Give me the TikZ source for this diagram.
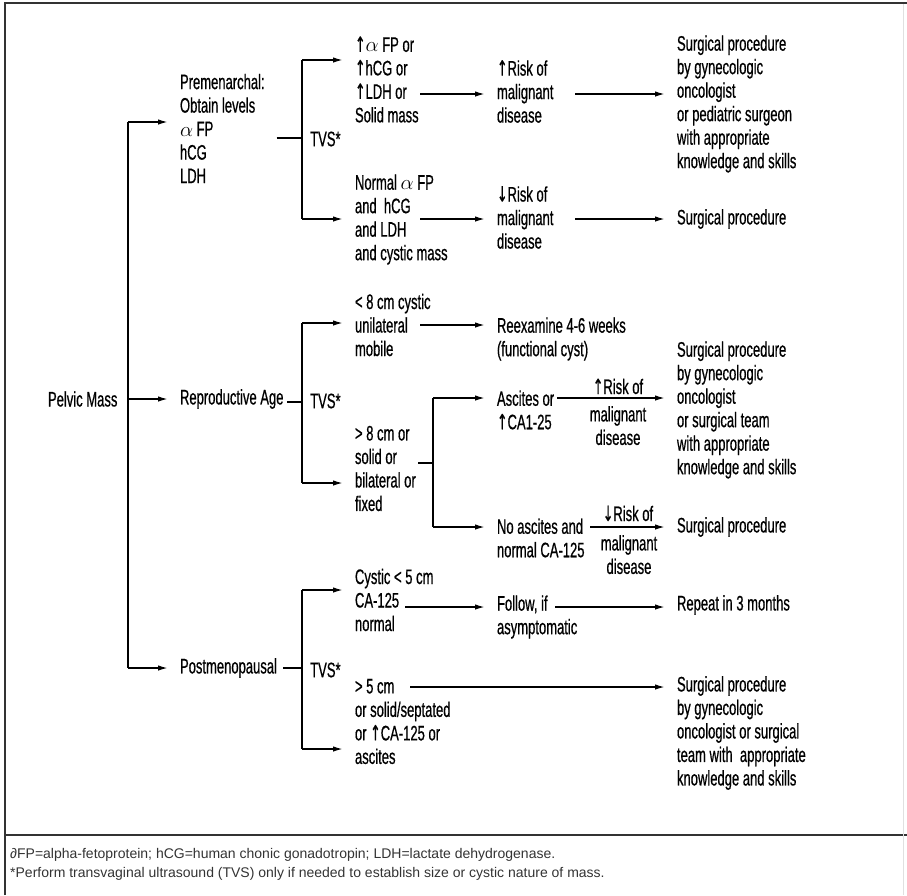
\documentclass[tikz,border=0pt]{standalone}
\usepackage{fontspec}
\setmainfont[FakeStretch=0.62,FakeBold=0.6]{Liberation Sans}
\newfontfamily\footfont{Liberation Sans}
\newfontfamily\arrfont[FakeStretch=0.6,FakeBold=0.6]{DejaVu Sans}
\newcommand{\up}{{\arrfont ↑}}
\newcommand{\dn}{{\arrfont ↓}}
\usetikzlibrary{arrows.meta}
\newcommand{\dfont}{\fontsize{21}{23.5}\selectfont}
\newcommand{\ffont}{\footfont\fontsize{14}{19}\selectfont}
\begin{document}
\begin{tikzpicture}[x=1pt,y=-1pt,
  ln/.style={line width=1.6pt},
  arr/.style={line width=1.6pt,-{Latex[length=10pt,width=5.5pt]}},
  txt/.style={inner sep=0pt,outer xsep=12pt,align=left,anchor=west,font=\dfont},
  lbl/.style={inner sep=0pt,align=center,font=\dfont},
  frameline/.style={line width=2pt,draw=black!80}]
\useasboundingbox (0,0) rectangle (907,895);
% frame
\draw[frameline] (5,895) -- (5,3) -- (907,3);
\draw[frameline] (5,835) -- (907,835);
\draw[draw=black!12,line width=1pt] (903,4) -- (903,895);

% level 1
\node[txt] (pelvic) at (36,399) {Pelvic Mass};
\node[txt] (prem) at (168,128.5) {Premenarchal:\\Obtain levels\\$\alpha$ FP\\hCG\\LDH};
\node[txt] (repro) at (168,399) {Reproductive Age};
\node[txt] (post) at (168,668) {Postmenopausal};
\coordinate (t1) at (128,122);
\coordinate (t3) at (128,668);
\draw[ln] (t1) -- (t3);
\draw[arr] (t1) -- (t1 -| prem.west);
\draw[arr] (pelvic.east -| t1) -- (repro.west);
\draw[arr] (t3) -- (post.west);

% premenarchal branch
\node[txt] (hi1) at (343,79.5) {\up$\alpha$ FP or\\\up hCG or\\\up LDH or\\Solid mass};
\node[txt] (lo1) at (343,219.5) {Normal $\alpha$ FP\\and\ \ hCG\\and LDH\\and cystic mass};
\node[txt] (risk1) at (485,91.5) {\up Risk of\\malignant\\disease};
\node[txt] (risk2) at (485,217.5) {\dn Risk of\\malignant\\disease};
\node[txt] (surg1) at (665,104) {Surgical procedure\\by gynecologic\\oncologist\\or pediatric surgeon\\with appropriate\\knowledge and skills};
\node[txt] (surg2) at (665,219) {Surgical procedure};
\coordinate (j1) at (302,138);
\coordinate (v1a) at (302,60);
\coordinate (v1b) at (302,219);
\draw[ln] (j1 -| prem.east) -- (j1);
\draw[ln] (v1a) -- (v1b);
\node[lbl,anchor=west] (tvs1) at (310,139) {TVS*};
\draw[arr] (v1a) -- (v1a -| hi1.west);
\draw[arr] (v1b) -- (v1b -| lo1.west);
\coordinate (h1) at (420,94);
\coordinate (h2) at (575,94);
\coordinate (l1) at (420,219);
\coordinate (l2) at (575,219);
\draw[arr] (h1) -- (h1 -| risk1.west);
\draw[arr] (h2) -- (h2 -| surg1.west);
\draw[arr] (l1) -- (l1 -| risk2.west);
\draw[arr] (l2) -- (l2 -| surg2.west);

% reproductive branch
\node[txt] (small8) at (343,325) {< 8 cm cystic\\unilateral\\mobile};
\node[txt] (big8) at (343,468.5) {> 8 cm or\\solid or\\bilateral or\\fixed};
\node[txt] (reexam) at (485,339) {Reexamine 4-6 weeks\\(functional cyst)};
\node[txt] (asc) at (485,410) {Ascites or\\\up CA1-25};
\node[txt] (noasc) at (485,538) {No ascites and\\normal CA-125};
\node[txt] (surg3) at (665,410) {Surgical procedure\\by gynecologic\\oncologist\\or surgical team\\with appropriate\\knowledge and skills};
\node[txt] (surg4) at (665,527) {Surgical procedure};
\coordinate (r0) at (287,402);
\coordinate (j2) at (302,402);
\coordinate (v2a) at (302,323);
\coordinate (v2b) at (302,483);
\draw[ln] (r0) -- (j2);
\draw[ln] (v2a) -- (v2b);
\node[lbl,anchor=west] (tvs2) at (310,401) {TVS*};
\draw[arr] (v2a) -- (v2a -| small8.west);
\draw[arr] (v2b) -- (v2b -| big8.west);
\coordinate (s1) at (420,325);
\draw[arr] (s1) -- (s1 -| reexam.west);
\coordinate (b0) at (418,463);
\coordinate (j3) at (433,463);
\coordinate (v3a) at (433,398);
\coordinate (v3b) at (433,527);
\draw[ln] (b0) -- (j3);
\draw[ln] (v3a) -- (v3b);
\draw[arr] (v3a) -- (v3a -| asc.west);
\draw[arr] (v3b) -- (v3b -| noasc.west);
\coordinate (a1) at (557,398);
\coordinate (n1) at (590,527);
\draw[arr] (a1) -- (a1 -| surg3.west);
\draw[arr] (n1) -- (n1 -| surg4.west);
\node[lbl,anchor=base] (rk3a) at (618,394) {\up Risk of};
\node[lbl,anchor=north] (rk3b) at (618,406) {malignant\\disease};
\node[lbl,anchor=base] (rk4a) at (628,521) {\dn Risk of};
\node[lbl,anchor=north] (rk4b) at (629,535) {malignant\\disease};

% postmenopausal branch
\node[txt] (cyst5) at (343,600) {Cystic < 5 cm\\CA-125\\normal};
\node[txt] (big5) at (343,721.5) {> 5 cm\\or solid/septated\\or \up CA-125 or\\ascites};
\node[txt] (follow) at (485,617) {Follow, if\\asymptomatic};
\node[txt] (repeat) at (665,605) {Repeat in 3 months};
\node[txt] (surg5) at (665,733) {Surgical procedure\\by gynecologic\\oncologist or surgical\\team with\ \ appropriate\\knowledge and skills};
\coordinate (p0) at (283,668);
\coordinate (j4) at (302,668);
\coordinate (v4a) at (302,590);
\coordinate (v4b) at (302,749);
\draw[ln] (p0) -- (j4);
\draw[ln] (v4a) -- (v4b);
\node[lbl,anchor=west] (tvs3) at (310,670) {TVS*};
\draw[arr] (v4a) -- (v4a -| cyst5.west);
\draw[arr] (v4b) -- (v4b -| big5.west);
\coordinate (c1) at (405,607);
\coordinate (f1) at (555,607);
\coordinate (g1) at (410,687);
\draw[arr] (c1) -- (c1 -| follow.west);
\draw[arr] (f1) -- (f1 -| repeat.west);
\draw[arr] (g1) -- (g1 -| surg5.west);

% footnote
\node[inner sep=0pt,anchor=west,align=left,font=\ffont,text=black!80] (fn) at (10,864.5)
 {∂FP=alpha-fetoprotein; hCG=human chonic gonadotropin; LDH=lactate dehydrogenase.\\*Perform transvaginal ultrasound (TVS) only if needed to establish size or cystic nature of mass.};
\end{tikzpicture}
\end{document}
